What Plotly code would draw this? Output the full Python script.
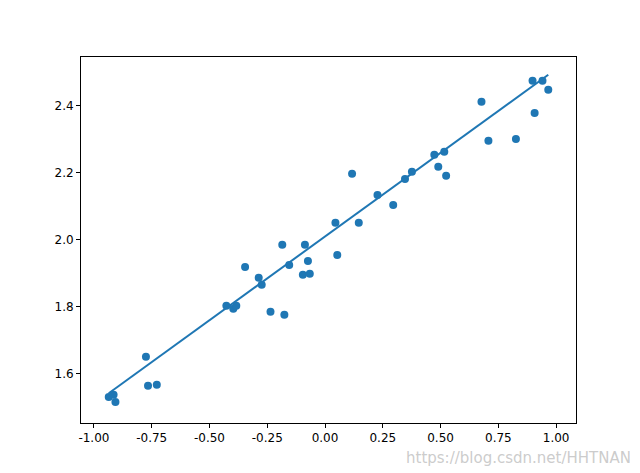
import numpy as np
import plotly.graph_objects as go

x = [-0.936,-0.915,-0.907,-0.775,-0.766,-0.728,-0.427,-0.397,-0.384,-0.346,-0.287,-0.274,-0.236,-0.185,-0.176,-0.155,-0.096,-0.087,-0.074,-0.066,0.045,0.053,0.117,0.146,0.227,0.295,0.346,0.376,0.473,0.490,0.516,0.524,0.677,0.707,0.826,0.898,0.907,0.941,0.966]
y = [1.531,1.537,1.516,1.651,1.564,1.567,1.803,1.794,1.803,1.919,1.887,1.866,1.785,1.985,1.776,1.925,1.896,1.985,1.937,1.899,2.051,1.955,2.197,2.051,2.134,2.104,2.182,2.203,2.254,2.218,2.263,2.191,2.412,2.296,2.301,2.475,2.379,2.475,2.448]
xticks = [-1.0,-0.75,-0.5,-0.25,0.0,0.25,0.5,0.75,1.0]
yticks = [1.6,1.8,2.0,2.2,2.4]

slope, icpt = 0.5, 2.01
xs = sorted(x)
ys = [slope*v + icpt for v in xs]

c = '#1f77b4'
fig = go.Figure()
fig.add_trace(go.Scatter(x=xs, y=ys, mode='lines', line=dict(color=c, width=2)))
fig.add_trace(go.Scatter(x=x, y=y, mode='markers', marker=dict(color=c, size=8)))
ax = dict(showgrid=False, zeroline=False, showline=True, linecolor='black', linewidth=1,
          mirror=True, ticks='outside', ticklen=4, tickcolor='black',
          tickfont=dict(family='DejaVu Sans', size=12, color='black'))
fig.update_xaxes(**ax, range=[-1.056, 1.086], tickvals=xticks,
                 ticktext=[f'{v:.2f}' for v in xticks])
fig.update_yaxes(**ax, range=[1.453, 2.546], tickvals=yticks,
                 ticktext=[f'{v:.1f}' for v in yticks])
fig.update_layout(width=640, height=473, margin=dict(l=73, r=72, t=49, b=58),
                  plot_bgcolor='white', paper_bgcolor='white', showlegend=False)
fig.add_annotation(text='https://blog.csdn.net/HHTNAN', xref='paper', yref='paper',
                   x=1.115, y=-0.125, xanchor='right', yanchor='bottom', showarrow=False,
                   font=dict(family='DejaVu Sans', size=15, color='rgba(190,190,190,0.8)'))
fig.write_html('out.html')
